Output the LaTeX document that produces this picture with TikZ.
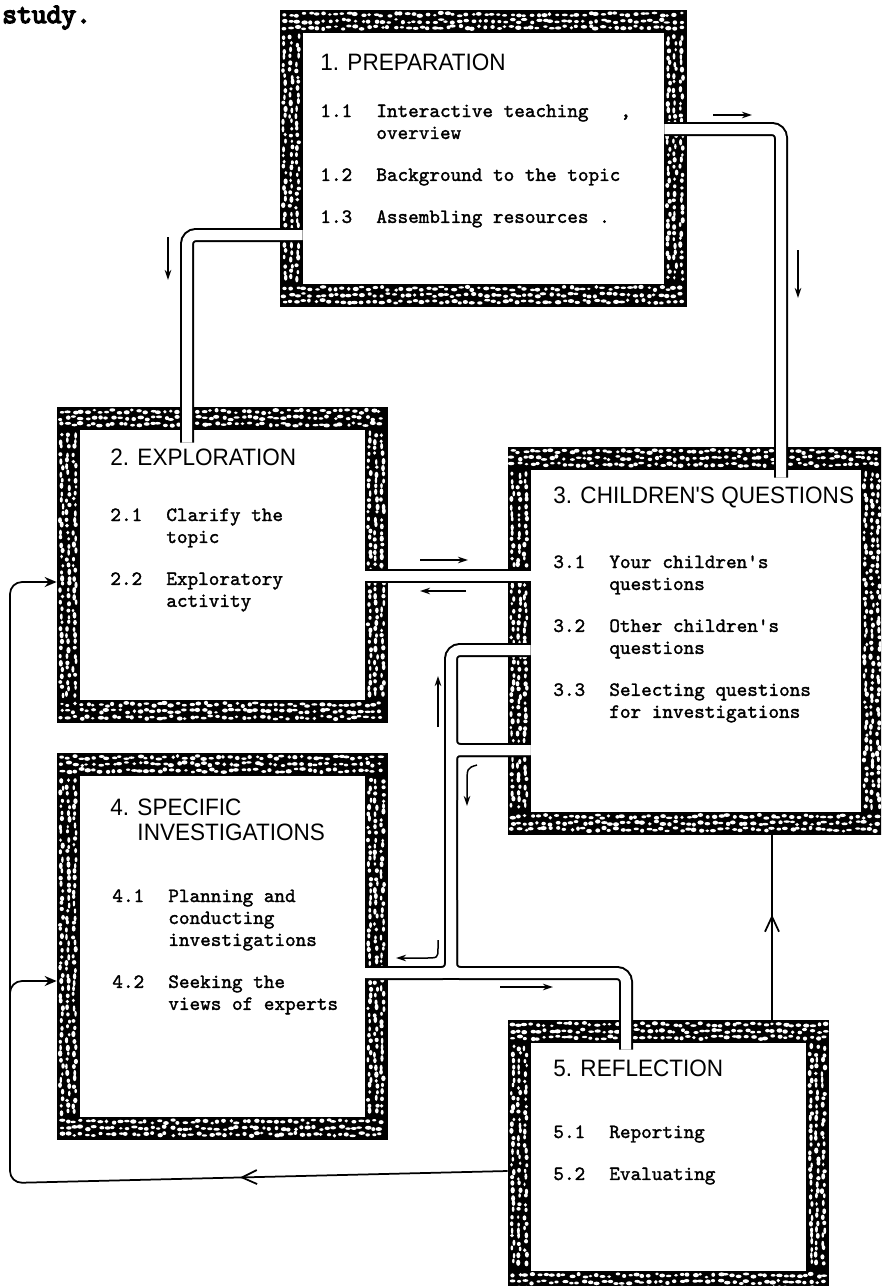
\documentclass[tikz,border=0pt]{standalone}
\usepackage{fontspec}
\newfontfamily\titlefont{Liberation Sans}[FakeStretch=0.95]
\newfontfamily\itemfont{lmmono10-regular.otf}[FakeBold=1.6]
\newfontfamily\studyfont{lmmono10-regular.otf}[FakeBold=5]
\usetikzlibrary{arrows.meta,calc,fit,decorations.markings}

\def\bw{23}
% black band with white pebbles
\newcommand{\pebbles}[6]{%
  \pgfmathsetmacro\pxa{#1}\pgfmathsetmacro\pya{#2}%
  \pgfmathsetmacro\pxb{#3}\pgfmathsetmacro\pyb{#4}%
  \fill (\pxa,\pya) rectangle (\pxb,\pyb);
  \pgfmathtruncatemacro\pcols{(\pxb-\pxa-9)/6.5}%
  \pgfmathtruncatemacro\prows{(\pyb-\pya-9)/6.5}%
  \foreach \i in {0,...,\pcols}{\foreach \j in {0,...,\prows}{%
    \pgfmathsetmacro\cx{\pxa+4.5+6.5*\i+1.6*rand}%
    \pgfmathsetmacro\cy{\pya+4.5+6.5*\j+1.6*rand}%
    \pgfmathsetmacro\rx{(1.2+1.0*rnd)*#5}%
    \pgfmathsetmacro\ry{(1.2+1.0*rnd)*#6}%
    \fill[white] (\cx,\cy) ellipse [x radius=\rx, y radius=\ry];
  }}%
}
\newcommand{\stagebox}[5]{%
  \pebbles{#2}{#3}{#4}{#3+\bw}{1.5}{1}
  \pebbles{#2}{#5-\bw}{#4}{#5}{1.5}{1}
  \pebbles{#2}{#3+\bw}{#2+\bw}{#5-\bw}{1}{1.5}
  \pebbles{#4-\bw}{#3+\bw}{#4}{#5-\bw}{1}{1.5}
  \node[stagearea, fit={(#2,#3) (#4,#5)}] (#1) {};
  \node[stagearea, fit={(#2+\bw,#3+\bw) (#4-\bw,#5-\bw)}] (#1-in) {};
}
\newcommand{\steps}[1]{\begin{tabular}[t]{@{}p{11.2mm}@{}l@{}}#1\end{tabular}}

\tikzset{
  stagearea/.style={inner sep=0pt, draw=none},
  stagetitle/.style={anchor=base west, inner sep=0pt, align=left, font=\titlefont\fontsize{13.5}{14.2}\selectfont},
  stageitems/.style={anchor=base west, inner sep=0pt, font=\itemfont\fontsize{11.5}{12.5}\selectfont},
  pipewall/.style={line width=2.8mm, rounded corners=1.8mm},
  pipecore/.style={white, line width=2mm, rounded corners=1.8mm},
  flow/.style={line width=0.3mm, -{Stealth[length=2mm,width=1.3mm]}},
  link/.style={line width=0.35mm, rounded corners=2.4mm},
  midarrow/.style={postaction={decorate}, decoration={markings, mark=at position #1 with {\arrow{Straight Barb[length=3mm,width=2.8mm,line width=0.35mm]}}}}
}

\begin{document}
\begin{tikzpicture}[x=0.2mm,y=-0.2mm]
\useasboundingbox (0,0) rectangle (881,1286);
\clip (0,0) rectangle (881,1286);
\pgfmathsetseed{7}

\stagebox{prep}{280}{10}{687}{307}
\stagebox{expl}{57}{407}{388}{723}
\stagebox{ques}{508}{447}{884}{835}
\stagebox{inv}{57}{753}{388}{1140}
\stagebox{refl}{508}{1020}{829}{1294}

\foreach \s in {pipewall,pipecore}{
  \draw[\s] (prep-in.east |- 0,129) -| ($(ques-in.north -| 781,0)+(0,8)$);
  \draw[\s] (prep-in.west |- 0,235) -| ($(expl-in.north -| 187,0)+(0,13)$);
  \draw[\s] (expl-in.east |- 0,576) -- (ques-in.west |- 0,576);
  \draw[\s] (ques-in.west |- 0,650) -| (451,973) -- (inv-in.east |- 0,973);
  \draw[\s] (ques-in.west |- 0,750) -| (451,700);
  \draw[\s] (ques-in.west |- 0,750) -| (451,800);
  \draw[\s] (inv-in.east |- 0,973) -- (600,973);
  \draw[\s] (451,900) |- (626,973) -- ($(refl-in.north -| 626,0)+(0,7)$);
}

\draw[flow] (713,115) -- (752,115);
\draw[flow] (798,250) -- (798,298);
\draw[flow] (168,237) -- (168,280);
\draw[flow] (420,560) -- (468,560);
\draw[flow] (466,591) -- (420,591);
\draw[flow] (438,727) -- (438,676);
\draw[flow] (477,765) .. controls (467,768) .. (467,785) -- (467,806);
\draw[flow] (438,940) -- (438,948) .. controls (438,958) .. (425,958) -- (396,958);
\draw[flow] (500,987) -- (553,987);

\draw[link, midarrow=0.57] (refl.north -| 772,0) -- (ques.south -| 772,0);
\draw[link, midarrow=0.236, -{Stealth[length=2.4mm,width=2mm,inset=0.8mm]}] (refl.west |- 0,1171) -- (10,1183) -- (10,582) -- (expl.west |- 0,582);
\coordinate (fork) at (10,1005);
\draw[link, -{Stealth[length=2.4mm,width=2mm,inset=0.8mm]}] (fork) |- (inv.west |- 0,981);

\node[anchor=base west, inner sep=0pt, font=\studyfont\fontsize{16}{17}\selectfont] (study) at (2,23) {study.};

\node[stagetitle] (prep-title) at (320,70) {1. PREPARATION};
\node[stagetitle] (expl-title) at (110,465) {2. EXPLORATION};
\node[stagetitle] (ques-title) at (553,503) {3. CHILDREN'S QUESTIONS};
\node[stagetitle] (inv-title) at (110,840) {4. SPECIFIC\\\hphantom{4. }INVESTIGATIONS};
\node[stagetitle] (refl-title) at (553,1076) {5. REFLECTION};

\node[stageitems] (prep-list) at (320,117) {\steps{1.1 & Interactive teaching\ \ \ ,\\ & overview\\[4mm] 1.2 & Background to the topic\\[4mm] 1.3 & Assembling resources .}};
\node[stageitems] (expl-list) at (110,521) {\steps{2.1 & Clarify the\\ & topic\\[4mm] 2.2 & Exploratory\\ & activity}};
\node[stageitems] (ques-list) at (553,568) {\steps{3.1 & Your children's\\ & questions\\[4mm] 3.2 & Other children's\\ & questions\\[4mm] 3.3 & Selecting questions\\ & for investigations}};
\node[stageitems] (inv-list) at (112,902) {\steps{4.1 & Planning and\\ & conducting\\ & investigations\\[4mm] 4.2 & Seeking the\\ & views of experts}};
\node[stageitems] (refl-list) at (553,1138) {\steps{5.1 & Reporting\\[4mm] 5.2 & Evaluating}};
\end{tikzpicture}
\end{document}
